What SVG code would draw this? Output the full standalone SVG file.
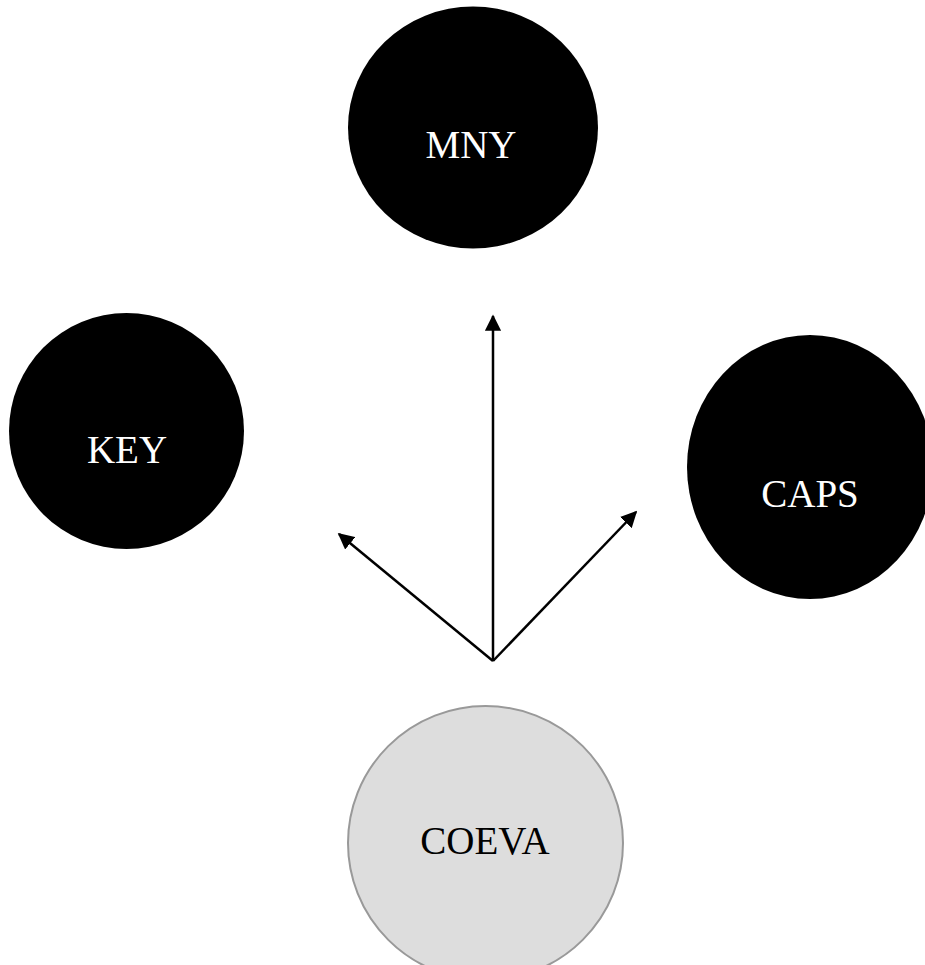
<svg xmlns="http://www.w3.org/2000/svg" width="925" height="965" viewBox="0 0 925 965">
<style>
.dark{fill:#000;}
.light{fill:#ddd;stroke:#999;stroke-width:2;}
.lbl{font-family:"Liberation Serif","Times New Roman",serif;font-size:39px;text-anchor:middle;}
.w{fill:#fff;}
.b{fill:#000;}
.conn{stroke:#000;stroke-width:2.5;fill:none;marker-end:url(#ah);}
</style>
<defs>
<marker id="ah" viewBox="0 0 10 10" refX="9" refY="5" markerWidth="6.5" markerHeight="6.5" orient="auto" markerUnits="strokeWidth">
<path d="M0,0 L10,5 L0,10 z" fill="#000"/>
</marker>
</defs>
<rect width="925" height="965" fill="#fff"/>
<g id="connectors">
<line class="conn" x1="493" y1="661" x2="493" y2="316"/>
<line class="conn" x1="493" y1="661" x2="339" y2="534"/>
<line class="conn" x1="493" y1="661" x2="636" y2="512"/>
</g>
<g id="MNY">
<ellipse class="dark" cx="473" cy="127.5" rx="125" ry="121"/>
<text class="lbl w" x="471" y="158">MNY</text>
</g>
<g id="KEY">
<ellipse class="dark" cx="126.5" cy="431" rx="117.5" ry="118"/>
<text class="lbl w" x="127" y="463">KEY</text>
</g>
<g id="CAPS">
<ellipse class="dark" cx="810" cy="467" rx="123" ry="132"/>
<text class="lbl w" x="810" y="507">CAPS</text>
</g>
<g id="COEVA">
<ellipse class="light" cx="485.5" cy="843" rx="137.5" ry="137"/>
<text class="lbl b" x="485" y="854">COEVA</text>
</g>
</svg>
